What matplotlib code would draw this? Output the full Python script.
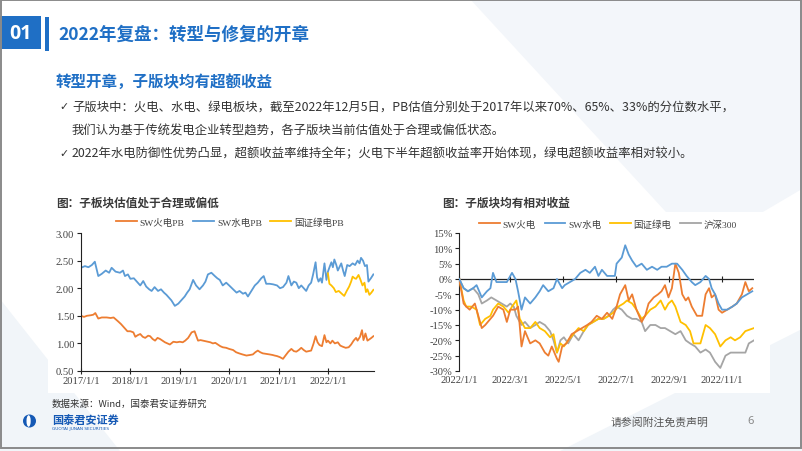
import numpy as np
import pandas as pd
import matplotlib
matplotlib.use("Agg")
import matplotlib.pyplot as plt
import matplotlib.dates as mdates
from matplotlib.patches import Rectangle, Polygon, Ellipse

CJK = ['Noto Sans CJK SC', 'DejaVu Sans']
SER = ['Liberation Serif', 'Noto Sans CJK SC']

# ---------------- data ----------------
# Left chart: PB valuation (x in decimal years)
hydro_pb_t = [2017.00, 2017.08, 2017.15, 2017.22, 2017.28, 2017.35, 2017.42, 2017.50, 2017.57, 2017.62,
              2017.70, 2017.79, 2017.85, 2017.89, 2017.95, 2018.00, 2018.07, 2018.13, 2018.20, 2018.26,
              2018.32, 2018.38, 2018.43, 2018.49, 2018.56, 2018.62, 2018.68, 2018.73, 2018.78, 2018.83,
              2018.90, 2018.97, 2019.03, 2019.10, 2019.15, 2019.20, 2019.27, 2019.33, 2019.40, 2019.47,
              2019.52, 2019.57, 2019.64, 2019.71, 2019.76, 2019.81, 2019.87, 2019.94, 2020.00, 2020.08,
              2020.15, 2020.21, 2020.28, 2020.33, 2020.38, 2020.45, 2020.52, 2020.58, 2020.65, 2020.70,
              2020.75, 2020.82, 2020.89, 2020.97, 2021.03, 2021.09, 2021.16, 2021.20, 2021.26, 2021.31,
              2021.36, 2021.41, 2021.46, 2021.51, 2021.56, 2021.61, 2021.66, 2021.70, 2021.75, 2021.78,
              2021.81, 2021.85, 2021.88, 2021.93, 2021.97, 2022.00, 2022.04, 2022.07, 2022.10, 2022.13,
              2022.17, 2022.20, 2022.27, 2022.31, 2022.34, 2022.39, 2022.44, 2022.50, 2022.55, 2022.60,
              2022.64, 2022.67, 2022.71, 2022.75, 2022.79, 2022.82, 2022.87, 2022.92]
hydro_pb = [2.37, 2.40, 2.38, 2.42, 2.48, 2.22, 2.26, 2.32, 2.28, 2.37,
            2.30, 2.28, 2.32, 2.22, 2.25, 2.17, 2.18, 2.12, 2.05, 2.13,
            2.03, 1.98, 1.95, 2.02, 1.95, 1.98, 1.92, 1.88, 1.83, 1.78,
            1.68, 1.72, 1.78, 1.85, 1.92, 1.98, 2.15, 2.05, 1.98, 2.05,
            2.12, 2.25, 2.28, 2.22, 2.18, 2.15, 2.05, 2.10, 2.05, 1.98,
            1.92, 1.95, 1.90, 1.92, 1.85, 1.95, 2.05, 2.10, 2.18, 2.22,
            2.08, 2.08, 2.07, 2.05, 2.00, 2.02, 2.10, 2.22, 2.05, 2.12,
            2.10, 2.00, 2.05, 2.00, 1.95, 2.05, 2.10, 2.25, 2.47, 2.20,
            2.12, 2.18, 2.10, 2.45, 2.15, 2.30, 2.40, 2.47, 2.38, 2.52,
            2.42, 2.32, 2.45, 2.31, 2.22, 2.42, 2.40, 2.45, 2.42, 2.50,
            2.45, 2.55, 2.50, 2.40, 2.42, 2.12, 2.18, 2.25]

thermal_pb_t = [2017.00, 2017.06, 2017.12, 2017.20, 2017.25, 2017.29, 2017.35, 2017.42, 2017.52, 2017.60,
                2017.66, 2017.75, 2017.81, 2017.86, 2017.94, 2018.00, 2018.06, 2018.10, 2018.15, 2018.20,
                2018.25, 2018.30, 2018.36, 2018.40, 2018.45, 2018.50, 2018.55, 2018.60, 2018.65, 2018.70,
                2018.75, 2018.80, 2018.87, 2018.94, 2019.00, 2019.06, 2019.11, 2019.17, 2019.24, 2019.30,
                2019.34, 2019.37, 2019.42, 2019.47, 2019.52, 2019.57, 2019.62, 2019.67, 2019.72, 2019.77,
                2019.82, 2019.87, 2019.94, 2020.00, 2020.08, 2020.14, 2020.20, 2020.27, 2020.35, 2020.42,
                2020.48, 2020.53, 2020.58, 2020.63, 2020.68, 2020.75, 2020.82, 2020.88, 2020.92, 2020.97,
                2021.03, 2021.09, 2021.14, 2021.20, 2021.26, 2021.31, 2021.36, 2021.41, 2021.46, 2021.51,
                2021.56, 2021.61, 2021.66, 2021.71, 2021.75, 2021.79, 2021.83, 2021.88, 2021.93, 2021.97,
                2022.00, 2022.05, 2022.09, 2022.14, 2022.20, 2022.25, 2022.30, 2022.36, 2022.42, 2022.47,
                2022.52, 2022.57, 2022.60, 2022.65, 2022.69, 2022.72, 2022.76, 2022.80, 2022.85, 2022.88,
                2022.92]
thermal_pb = [1.50, 1.48, 1.50, 1.51, 1.52, 1.55, 1.45, 1.47, 1.47, 1.46,
              1.47, 1.40, 1.35, 1.30, 1.22, 1.22, 1.20, 1.12, 1.15, 1.17,
              1.12, 1.10, 1.14, 1.13, 1.08, 1.05, 1.10, 1.08, 1.05, 1.02,
              1.00, 0.98, 1.03, 1.02, 1.03, 1.02, 1.05, 1.10, 1.20, 1.22,
              1.12, 1.05, 1.06, 1.05, 1.04, 1.03, 1.02, 1.00, 1.01, 0.98,
              0.95, 0.93, 0.92, 0.90, 0.88, 0.84, 0.82, 0.80, 0.78, 0.79,
              0.80, 0.84, 0.87, 0.84, 0.82, 0.81, 0.80, 0.79, 0.78, 0.77,
              0.75, 0.72, 0.78, 0.85, 0.90, 0.86, 0.85, 0.88, 0.92, 0.88,
              0.85, 0.86, 0.87, 1.00, 1.13, 1.02, 0.97, 0.95, 1.15, 1.02,
              1.05, 1.00, 1.05, 1.00, 1.02, 0.96, 0.94, 0.92, 0.93, 0.98,
              1.05, 1.10, 1.05, 1.12, 1.24, 1.06, 1.18, 1.05, 1.08, 1.10,
              1.13]

green_pb_t = [2022.00, 2022.03, 2022.07, 2022.12, 2022.16, 2022.22, 2022.28, 2022.33, 2022.38, 2022.43,
              2022.47, 2022.50, 2022.54, 2022.57, 2022.62, 2022.66, 2022.70, 2022.74, 2022.77, 2022.80,
              2022.84, 2022.88, 2022.92]
green_pb = [2.27, 2.08, 2.05, 2.00, 1.93, 1.95, 1.90, 1.86, 1.95, 2.03,
            2.12, 2.21, 2.18, 2.17, 2.24, 2.15, 2.05, 2.10, 1.93, 1.98,
            1.88, 1.92, 1.97]

pb_names = ['SW火电PB', 'SW水电PB', '国证绿电PB']
pb_yticks = [0.5, 1.0, 1.5, 2.0, 2.5, 3.0]

# Right chart: relative returns 2022 (days since 2022-01-01, %)
thermal_d = [0, 5, 8, 12, 18, 22, 26, 30, 36, 39, 45, 51, 55, 59, 65, 68, 72, 76, 82, 88, 93, 99, 103, 107,
             113, 115, 119, 124, 130, 136, 142, 148, 153, 159, 165, 171, 177, 182, 186, 192, 196, 200, 205,
             211, 215, 219, 225, 230, 234, 238, 242, 246, 250, 254, 258, 262, 265, 269, 275, 281, 285, 289,
             292, 296, 300, 304, 310, 316, 321, 327, 331, 335, 339]
thermal_r = [0, -8, -9, -10, -8, -12, -16, -15, -13, -12, -9, -10, -14, -10, -10, -9, -22, -17, -21, -20, -21,
             -24, -25, -22, -26, -27, -22, -21, -18, -17, -16, -15, -14, -12, -13, -11, -13, -9, -5, -2, -7,
             -5, -10, -14, -12, -8, -6, -5, -4, -2, -6, -3, 5, 2, -5, -7, -6, -9, -12, -12, -5, -3, -6, -5,
             -10, -11, -10, -9, -8, -5, -1, -4, -3]

hydro_d = [0, 5, 10, 16, 20, 26, 32, 36, 39, 43, 49, 55, 61, 65, 68, 72, 76, 82, 88, 93, 97, 103, 109, 113,
           119, 122, 128, 134, 140, 146, 151, 157, 161, 165, 171, 177, 180, 182, 188, 192, 196, 200, 205, 211,
           217, 223, 229, 234, 240, 246, 252, 258, 263, 269, 273, 279, 285, 289, 292, 296, 300, 304, 310, 316,
           321, 327, 333, 339]
hydro_r = [0, -3, -4, -3, -2, -6, -4, -3, 2, -1, -1, -1, 2, 0, -4, -10, -6, -8, -6, -4, -2, -4, -3, 0,
           -3, -2, -1, 0, 2, 3, 2, 4, 1, 3, 1, 1, 1, 5, 7, 11, 8, 6, 4, 5,
           3, 4, 3, 4, 4, 5, 5, 3, 1, -1, -2, -1, 1, 0, -3, -5, -8, -10, -10, -9,
           -8, -6, -5, -4]

green_d = [0, 5, 8, 14, 20, 24, 30, 36, 39, 45, 51, 57, 61, 66, 70, 76, 82, 88, 93, 99, 105, 109, 113, 117,
           121, 126, 132, 138, 144, 149, 155, 161, 167, 173, 178, 184, 190, 194, 200, 205, 211, 215, 221, 227,
           233, 238, 242, 246, 250, 256, 262, 267, 271, 279, 285, 290, 296, 302, 308, 314, 319, 325, 331, 341]
green_r = [0, -7, -9, -9, -10, -15, -13, -12, -10, -8, -9, -11, -9, -7, -13, -16, -16, -14, -16, -17, -19, -18,
           -24, -21, -22, -20, -18, -16, -17, -15, -14, -13, -13, -12, -11, -9, -8, -7, -8, -10, -13, -12, -10,
           -9, -7, -10, -8, -7, -9, -14, -15, -17, -21, -21, -15, -16, -18, -22, -20, -19, -20, -19, -17, -16]

hs300_d = [0, 5, 10, 16, 22, 26, 32, 37, 43, 49, 55, 59, 63, 66, 72, 76, 82, 88, 93, 99, 105, 109, 113, 117,
           121, 126, 132, 138, 144, 149, 155, 161, 167, 173, 178, 182, 188, 194, 200, 205, 211, 215, 221, 227,
           233, 238, 244, 250, 256, 262, 267, 273, 279, 285, 290, 296, 302, 308, 314, 319, 325, 331, 335, 341]
hs300_r = [0, -3, -4, -3, -5, -8, -7, -6, -7, -8, -9, -8, -9, -12, -15, -14, -16, -15, -14, -15, -17, -20,
           -24, -20, -19, -21, -18, -20, -17, -15, -14, -13, -13, -12, -10, -9, -10, -12, -13, -13, -14, -17,
           -15, -15, -16, -16, -17, -18, -17, -20, -21, -22, -24, -23, -24, -27, -29, -25, -24, -24, -24, -24,
           -21, -20]

ret_names = ['SW火电', 'SW水电', '国证绿电', '沪深300']
ret_yticks = [-30, -25, -20, -15, -10, -5, 0, 5, 10, 15]

C_OR, C_BL, C_YE, C_GR = '#ED7D31', '#5B9BD5', '#FFC000', '#A5A5A5'
BRAND = '#1F6FC5'
TXT = '#333333'


def yr_to_date(t):
    t = np.asarray(t, dtype=float)
    return pd.Timestamp('2017-01-01') + pd.to_timedelta((t - 2017.0) * 365.25, unit='D')


def day_to_date(d):
    return pd.Timestamp('2022-01-01') + pd.to_timedelta(np.asarray(d, dtype=float), unit='D')


# ---------------- figure ----------------
W, H = 802, 452
fig = plt.figure(figsize=(W / 100, H / 100), dpi=100)
fig.patch.set_facecolor('white')


def fx(x):
    return x / W


def fy(y):
    return 1 - y / H


def T(x, y, s, **kw):
    kw.setdefault('family', CJK)
    kw.setdefault('va', 'center')
    kw.setdefault('zorder', 6)
    return fig.text(fx(x), fy(y), s, **kw)


# faint background shapes
for pts, col in [([(470, 0), (802, 0), (802, 190), (700, 250)], '#f3f6fa'),
                 ([(0, 300), (120, 452), (0, 452)], '#f1f5f9'),
                 ([(560, 452), (802, 330), (802, 452)], '#f1f5f9')]:
    fig.patches.append(Polygon([(fx(a), fy(b)) for a, b in pts], closed=True,
                               transform=fig.transFigure, facecolor=col, edgecolor='none', zorder=-2))

# chart white boxes
for (x0, y0, x1, y1) in [(48, 213, 408, 394), (433, 213, 770, 394)]:
    fig.patches.append(Rectangle((fx(x0), fy(y1)), fx(x1 - x0), (y1 - y0) / H, transform=fig.transFigure,
                                 facecolor='white', edgecolor='none', zorder=-1))

# border
fig.patches.append(Rectangle((fx(0.8), fy(449)), fx(800.4), 448.2 / H, transform=fig.transFigure,
                             facecolor='none', edgecolor='#8a8a8a', lw=1.4, zorder=8))

# header
fig.patches.append(Rectangle((fx(0), fy(50)), fx(41), 33 / H, transform=fig.transFigure,
                             facecolor=BRAND, edgecolor='none', zorder=2))
T(20.5, 34, '01', color='white', fontsize=14, fontweight='bold', ha='center', family=['Open Sans', 'DejaVu Sans'])
fig.patches.append(Rectangle((fx(44.5), fy(52)), fx(4), 34 / H, transform=fig.transFigure,
                             facecolor=BRAND, edgecolor='none', zorder=2))
T(58, 35, '2022年复盘：转型与修复的开章', color=BRAND, fontsize=12.6, fontweight='bold')

T(56, 82, '转型开章，子版块均有超额收益', color=BRAND, fontsize=11.2, fontweight='bold')
T(59, 107, '✓', color=TXT, fontsize=7.8, family=['DejaVu Sans'])
T(72, 107, '子版块中：火电、水电、绿电板块，截至2022年12月5日，PB估值分别处于2017年以来70%、65%、33%的分位数水平，',
  color=TXT, fontsize=8.9)
T(72, 131, '我们认为基于传统发电企业转型趋势，各子版块当前估值处于合理或偏低状态。', color=TXT, fontsize=8.9)
T(59, 154, '✓', color=TXT, fontsize=7.8, family=['DejaVu Sans'])
T(72, 154, '2022年水电防御性优势凸显，超额收益率维持全年；火电下半年超额收益率开始体现，绿电超额收益率相对较小。',
  color=TXT, fontsize=8.9)

T(56, 203, '图：子板块估值处于合理或偏低', color='#3a3a3a', fontsize=8.4, fontweight='bold')
T(442, 203, '图：子版块均有相对收益', color='#3a3a3a', fontsize=8.4, fontweight='bold')

# footer
T(52, 404, '数据来源：Wind，国泰君安证券研究', color=TXT, fontsize=6.8)
T(611, 422, '请参阅附注免责声明', color='#555555', fontsize=7.8)
T(747, 422, '6', color='#888888', fontsize=8, family=['Noto Sans', 'DejaVu Sans'])

# logo
fig.patches.append(Ellipse((fx(29.5), fy(422)), fx(13), 13 / H, transform=fig.transFigure,
                           facecolor='#1559B5', edgecolor='none', zorder=3))
fig.patches.append(Ellipse((fx(28.6), fy(422)), fx(4.2), 11.6 / H, transform=fig.transFigure,
                           facecolor='white', edgecolor='none', zorder=3.1))
T(52, 420, '国泰君安证券', color='#1559B5', fontsize=8, fontweight='bold')
T(52, 429.5, 'GUOTAI JUNAN SECURITIES', color='#1559B5', fontsize=3.1, family=['DejaVu Sans'])


def style_ticks(ax):
    for lab in ax.get_xticklabels() + ax.get_yticklabels():
        lab.set_family(SER)
        lab.set_fontsize(7.6)
        lab.set_color('#404040')


def date_fmt(x, pos=None):
    d = mdates.num2date(x)
    return f'{d.year}/{d.month}/{d.day}'


LEG_KW = dict(frameon=False, prop={'family': SER, 'size': 6.8}, handlelength=2.2,
              columnspacing=0.9, handletextpad=0.3, borderaxespad=0, borderpad=0)

# ---------------- left chart ----------------
axL = fig.add_axes([fx(81), fy(372), fx(374 - 81), 138 / H])
axL.set_zorder(4)
axL.set_facecolor('none')
axL.plot(yr_to_date(thermal_pb_t), thermal_pb, color=C_OR, lw=1.3, label=pb_names[0])
axL.plot(yr_to_date(hydro_pb_t), hydro_pb, color=C_BL, lw=1.3, label=pb_names[1])
axL.plot(yr_to_date(green_pb_t), green_pb, color=C_YE, lw=1.3, label=pb_names[2])
axL.set_ylim(0.5, 3.0)
axL.set_yticks(pb_yticks)
axL.yaxis.set_major_formatter(matplotlib.ticker.FormatStrFormatter('%.2f'))
axL.set_xlim(pd.Timestamp('2017-01-01'), pd.Timestamp('2022-12-08'))
axL.xaxis.set_major_locator(mdates.YearLocator())
axL.xaxis.set_major_formatter(matplotlib.ticker.FuncFormatter(date_fmt))
for s in ['top', 'right']:
    axL.spines[s].set_visible(False)
for s in ['left', 'bottom']:
    axL.spines[s].set_color('#222222')
    axL.spines[s].set_linewidth(0.8)
axL.tick_params(axis='y', direction='out', length=3, width=0.8, pad=2, color='#222222')
axL.tick_params(axis='x', direction='inout', length=5, width=0.8, pad=1, color='#222222')
style_ticks(axL)
legL = axL.legend(loc='center', bbox_to_anchor=((230 - 81) / (374 - 81), (372 - 223) / 138),
                  ncol=3, **LEG_KW)
for t in legL.get_texts():
    t.set_color('#404040')

# ---------------- right chart ----------------
axR = fig.add_axes([fx(459.3), fy(372), fx(754 - 459.3), 138 / H])
axR.set_zorder(4)
axR.set_facecolor('none')
axR.plot(day_to_date(thermal_d), thermal_r, color=C_OR, lw=1.3, label=ret_names[0], zorder=3)
axR.plot(day_to_date(hydro_d), hydro_r, color=C_BL, lw=1.3, label=ret_names[1], zorder=3.2)
axR.plot(day_to_date(green_d), green_r, color=C_YE, lw=1.3, label=ret_names[2], zorder=2.8)
axR.plot(day_to_date(hs300_d), hs300_r, color=C_GR, lw=1.3, label=ret_names[3], zorder=2.6)
axR.set_ylim(-30, 15)
axR.set_yticks(ret_yticks)
axR.yaxis.set_major_formatter(matplotlib.ticker.FormatStrFormatter('%d%%'))
axR.set_xlim(pd.Timestamp('2022-01-01'), pd.Timestamp('2022-12-08'))
axR.xaxis.set_major_locator(mdates.MonthLocator(bymonth=[1, 3, 5, 7, 9, 11]))
axR.xaxis.set_major_formatter(matplotlib.ticker.FuncFormatter(date_fmt))
for s in ['top', 'right', 'bottom']:
    axR.spines[s].set_visible(False)
axR.spines['left'].set_color('#222222')
axR.spines['left'].set_linewidth(0.8)
axR.tick_params(axis='y', direction='out', length=3, width=0.8, pad=2, color='#222222')
axR.tick_params(axis='x', length=0, pad=3)
axR.axhline(0, color='#222222', lw=0.9, zorder=2.5)
sec = axR.secondary_xaxis((0 - (-30)) / 45)
sec.xaxis.set_major_locator(mdates.MonthLocator(bymonth=[1, 3, 5, 7, 9, 11]))
sec.tick_params(axis='x', direction='inout', length=4, width=0.8, color='#222222', labelbottom=False,
                labeltop=False, top=False, bottom=True)
sec.spines['bottom'].set_visible(False)
sec.spines['top'].set_visible(False)
style_ticks(axR)
legR = axR.legend(loc='center', bbox_to_anchor=((608 - 459.3) / (754 - 459.3), (372 - 225) / 138),
                  ncol=4, **LEG_KW)
for t in legR.get_texts():
    t.set_color('#404040')

fig.savefig('out.png', dpi=100, facecolor='white')
